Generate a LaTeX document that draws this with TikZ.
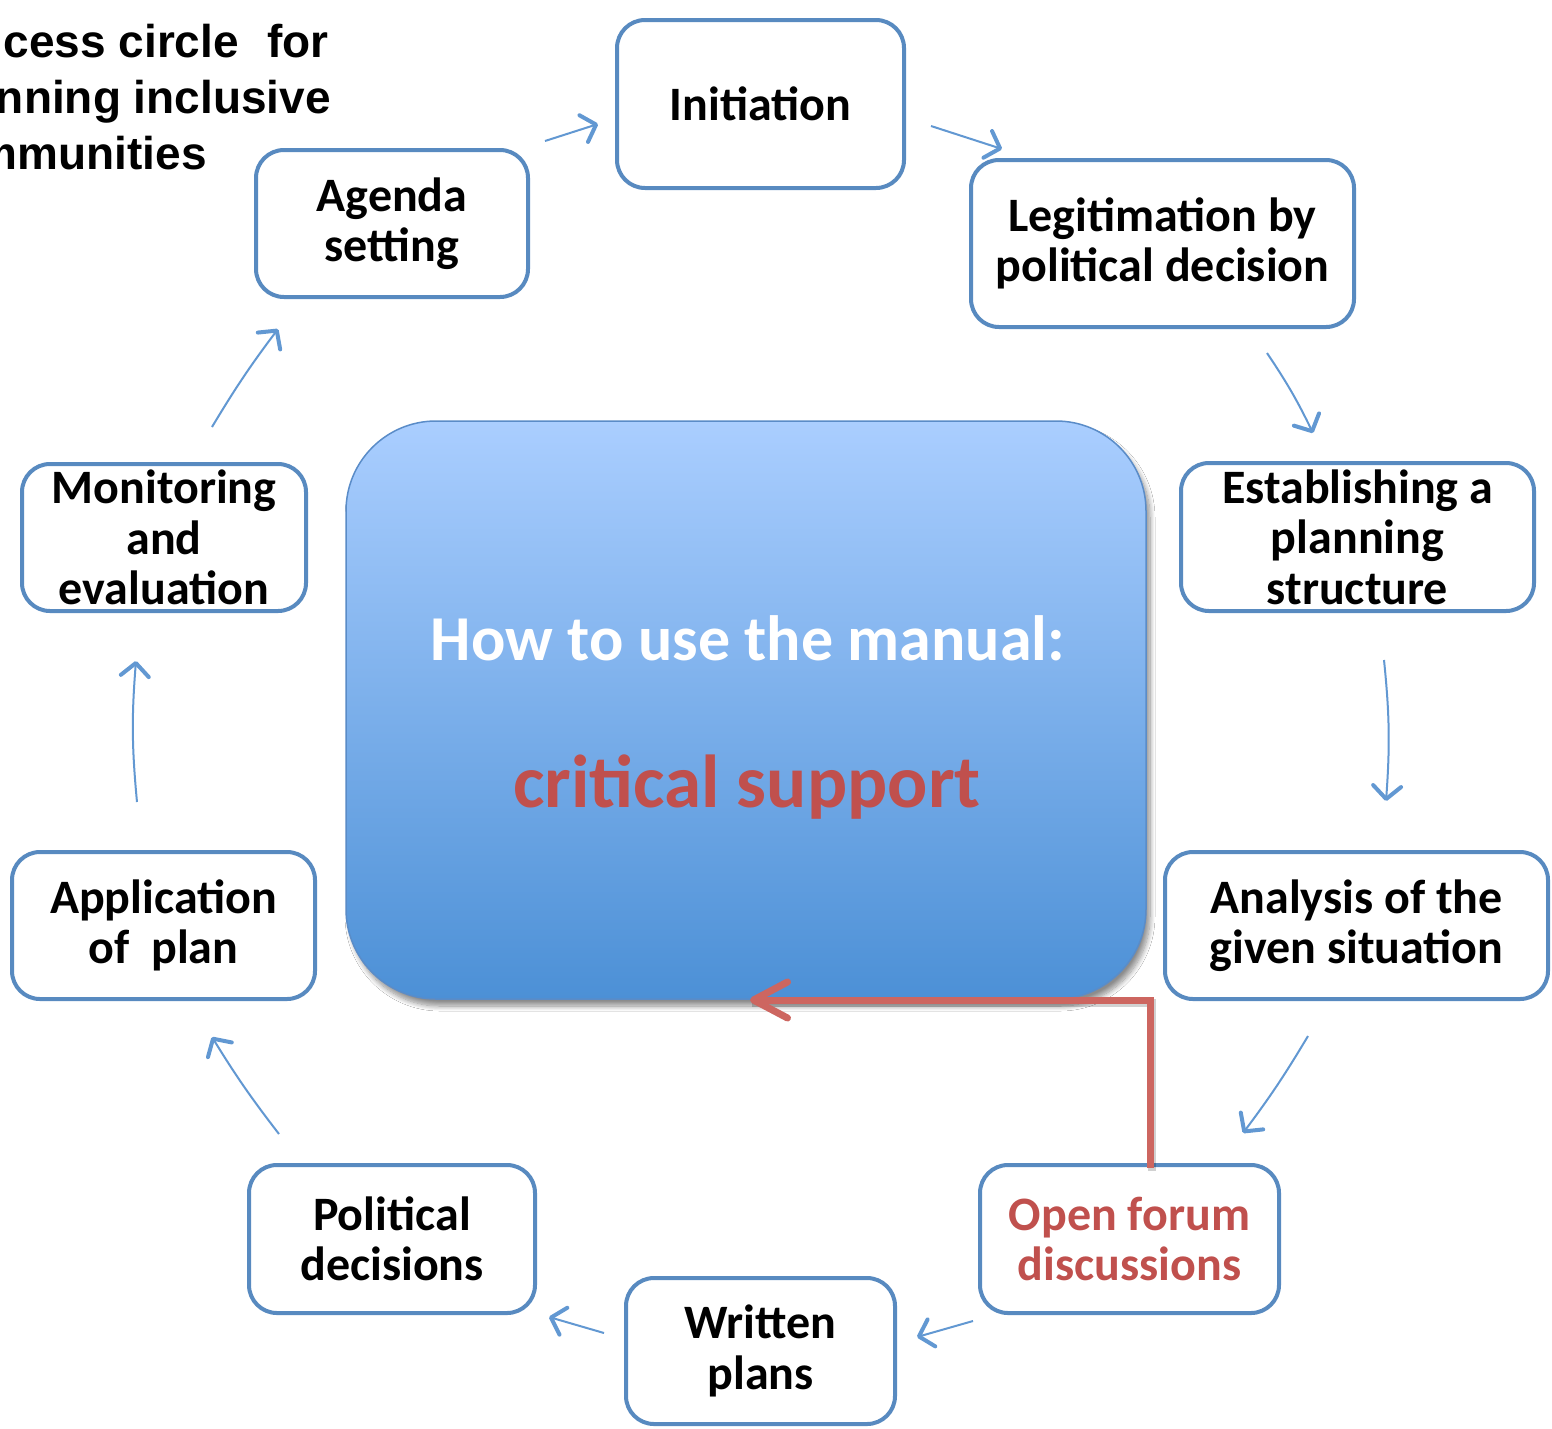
\documentclass[tikz,border=0pt]{standalone}
\usepackage{fontspec}
\setmainfont{Carlito}
\newfontfamily\titlefont{Liberation Sans}
\usetikzlibrary{arrows.meta,shadows.blur}
\definecolor{boxblue}{RGB}{88,138,192}
\definecolor{arrblue}{RGB}{98,152,210}
\definecolor{redtxt}{RGB}{192,80,77}
\definecolor{redarr}{RGB}{205,102,96}
\definecolor{topblue}{RGB}{170,206,255}
\definecolor{botblue}{RGB}{76,144,214}
\definecolor{coreline}{RGB}{90,140,200}
\tikzset{
  stepbox/.style={draw=boxblue, line width=4pt, rounded corners=28pt, fill=white,
    align=center, inner sep=0pt, font=\bfseries\fontsize{48}{50.5}\selectfont},
  flow/.style={draw=arrblue, line width=2pt,
    -{Straight Barb[length=13pt,width=28pt,line width=4pt,round]}},
  titleline/.style={anchor=base east, inner sep=0pt,
    font=\titlefont\bfseries\fontsize{46}{50}\selectfont},
}
\begin{document}
\begin{tikzpicture}[x=1pt,y=-1pt]
\useasboundingbox (0,0) rectangle (1552,1428);
\clip (0,0) rectangle (1552,1428);
\fill[white] (0,0) rectangle (1552,1428);

% title
\node[titleline] (t1) at (329,57) {cess circle\ \ \kern3pt for};
\node[titleline] (t2) at (331,113) {nning inclusive};
\node[titleline] (t3) at (207,169) {mmunities};

% central box
\node[draw=coreline, line width=1.5pt, rounded corners=90pt,
  top color=topblue, bottom color=botblue,
  minimum width=800pt, minimum height=578pt,
  blur shadow={shadow xshift=4pt, shadow yshift=-7pt, shadow blur steps=10, shadow opacity=45, shadow blur radius=5pt}]
  (core) at (746,710) {};
\node[anchor=base, inner sep=0pt, text=white, font=\bfseries\fontsize{64}{70}\selectfont] (howto) at (748,660) {How to use the manual:};
\node[anchor=base, inner sep=0pt, text=redtxt, font=\bfseries\fontsize{75}{80}\selectfont] (crit) at (747,807) {critical support};

% step boxes
\node[stepbox, minimum width=287pt, minimum height=168pt] (init) at (760.5,104) {Initiation};
\node[stepbox, minimum width=383pt, minimum height=167pt] (legit) at (1162.5,243.5) {Legitimation by\\political decision};
\node[stepbox, minimum width=353pt, minimum height=148pt] (estab) at (1357.5,537) {Establishing a\\planning\\structure};
\node[stepbox, minimum width=383pt, minimum height=147pt] (anal) at (1356.5,925.5) {Analysis of the\\given situation};
\node[stepbox, minimum width=299pt, minimum height=148pt, text=redtxt] (open) at (1129.5,1239) {Open forum\\discussions};
\node[stepbox, minimum width=269pt, minimum height=146pt] (written) at (760.5,1351) {Written\\plans};
\node[stepbox, minimum width=286pt, minimum height=148pt] (polit) at (392,1239) {Political\\decisions};
\node[stepbox, minimum width=303pt, minimum height=147pt] (appl) at (163.5,925.5) {Application\\of\ \ plan};
\node[stepbox, minimum width=284pt, minimum height=147pt] (monit) at (164,537.5) {Monitoring\\and\\evaluation};
\node[stepbox, minimum width=272pt, minimum height=147pt] (agenda) at (392,223.5) {Agenda\\setting};

% arrow ends
\coordinate (a1s) at (545,141);   \coordinate (a1e) at (598,124);
\coordinate (a2s) at (931,126);   \coordinate (a2e) at (1002,149);
\coordinate (a3s) at (1267,353);  \coordinate (a3e) at (1313,433);
\coordinate (a4s) at (1384,660);  \coordinate (a4e) at (1386,801);
\coordinate (a5s) at (1308,1036); \coordinate (a5e) at (1243,1133);
\coordinate (a6s) at (973,1321);  \coordinate (a6e) at (917,1337);
\coordinate (a7s) at (604,1333);  \coordinate (a7e) at (549,1317);
\coordinate (a8s) at (279,1134);  \coordinate (a8e) at (212,1037);
\coordinate (a9s) at (137,802);   \coordinate (a9e) at (136,661);
\coordinate (a10s) at (212,427);  \coordinate (a10e) at (278,329);

\draw[flow] (a1s) -- (a1e);
\draw[flow] (a2s) -- (a2e);
\draw[flow] (a3s) to[bend left=4] (a3e);
\draw[flow] (a4s) to[bend left=5] (a4e);
\draw[flow] (a5s) to[bend left=3] (a5e);
\draw[flow] (a6s) -- (a6e);
\draw[flow] (a7s) -- (a7e);
\draw[flow] (a8s) to[bend left=3] (a8e);
\draw[flow] (a9s) to[bend left=5] (a9e);
\draw[flow] (a10s) to[bend left=3] (a10e);

% red feedback arrow
\coordinate (rs) at (1150,1168);
\coordinate (re) at (750,1000);
\draw[black, opacity=0.18, line width=8pt, transform canvas={shift={(2pt,-3pt)}}] (rs) |- (re);
\draw[redarr, line width=7pt, miter limit=2,
  -{Straight Barb[length=34pt,width=36pt,line width=7pt,round]}] (rs) |- (re);
\end{tikzpicture}
\end{document}
